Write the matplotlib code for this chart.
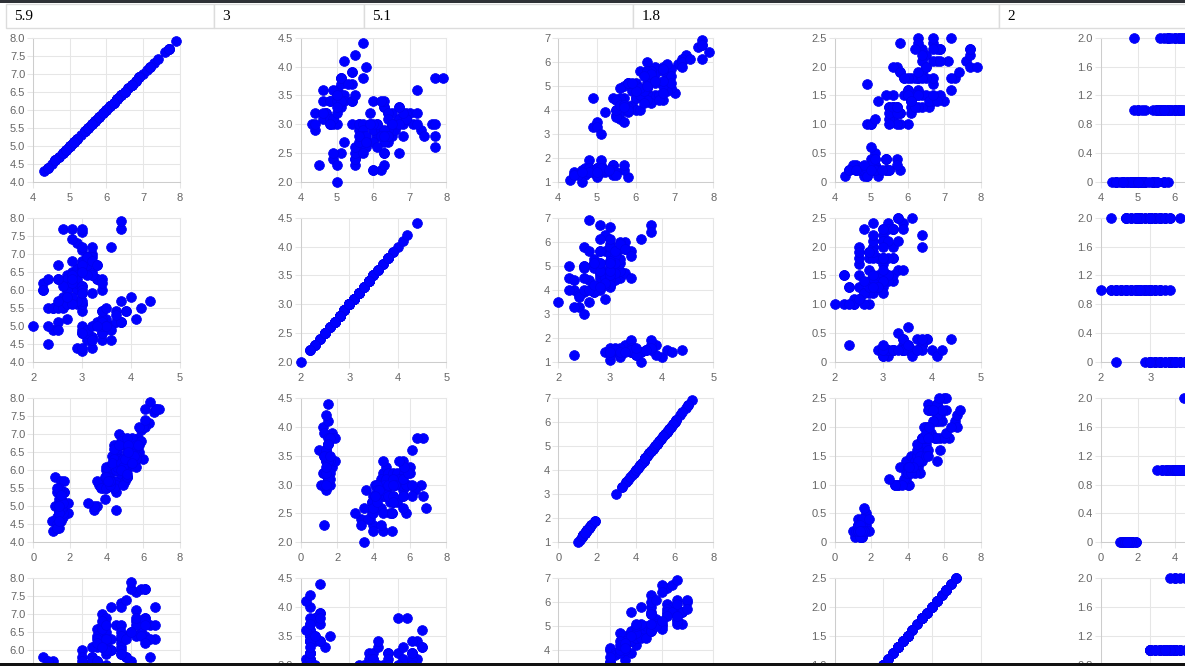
import numpy as np
import matplotlib.pyplot as plt
from matplotlib.patches import Rectangle

# iris data, one row per flower
sepal_length = [5.1, 4.9, 4.7, 4.6, 5.0, 5.4, 4.6, 5.0, 4.4, 4.9, 5.4, 4.8, 4.8, 4.3, 5.8, 5.7, 5.4, 5.1, 5.7, 5.1,
                5.4, 5.1, 4.6, 5.1, 4.8, 5.0, 5.0, 5.2, 5.2, 4.7, 4.8, 5.4, 5.2, 5.5, 4.9, 5.0, 5.5, 4.9, 4.4, 5.1,
                5.0, 4.5, 4.4, 5.0, 5.1, 4.8, 5.1, 4.6, 5.3, 5.0,
                7.0, 6.4, 6.9, 5.5, 6.5, 5.7, 6.3, 4.9, 6.6, 5.2, 5.0, 5.9, 6.0, 6.1, 5.6, 6.7, 5.6, 5.8, 6.2, 5.6,
                5.9, 6.1, 6.3, 6.1, 6.4, 6.6, 6.8, 6.7, 6.0, 5.7, 5.5, 5.5, 5.8, 6.0, 5.4, 6.0, 6.7, 6.3, 5.6, 5.5,
                5.5, 6.1, 5.8, 5.0, 5.6, 5.7, 5.7, 6.2, 5.1, 5.7,
                6.3, 5.8, 7.1, 6.3, 6.5, 7.6, 4.9, 7.3, 6.7, 7.2, 6.5, 6.4, 6.8, 5.7, 5.8, 6.4, 6.5, 7.7, 7.7, 6.0,
                6.9, 5.6, 7.7, 6.3, 6.7, 7.2, 6.2, 6.1, 6.4, 7.2, 7.4, 7.9, 6.4, 6.3, 6.1, 7.7, 6.3, 6.4, 6.0, 6.9,
                6.7, 6.9, 5.8, 6.8, 6.7, 6.7, 6.3, 6.5, 6.2, 5.9]
sepal_width = [3.5, 3.0, 3.2, 3.1, 3.6, 3.9, 3.4, 3.4, 2.9, 3.1, 3.7, 3.4, 3.0, 3.0, 4.0, 4.4, 3.9, 3.5, 3.8, 3.8,
               3.4, 3.7, 3.6, 3.3, 3.4, 3.0, 3.4, 3.5, 3.4, 3.2, 3.1, 3.4, 4.1, 4.2, 3.1, 3.2, 3.5, 3.6, 3.0, 3.4,
               3.5, 2.3, 3.2, 3.5, 3.8, 3.0, 3.8, 3.2, 3.7, 3.3,
               3.2, 3.2, 3.1, 2.3, 2.8, 2.8, 3.3, 2.4, 2.9, 2.7, 2.0, 3.0, 2.2, 2.9, 2.9, 3.1, 3.0, 2.7, 2.2, 2.5,
               3.2, 2.8, 2.5, 2.8, 2.9, 3.0, 2.8, 3.0, 2.9, 2.6, 2.4, 2.4, 2.7, 2.7, 3.0, 3.4, 3.1, 2.3, 3.0, 2.5,
               2.6, 3.0, 2.6, 2.3, 2.7, 3.0, 2.9, 2.9, 2.5, 2.8,
               3.3, 2.7, 3.0, 2.9, 3.0, 3.0, 2.5, 2.9, 2.5, 3.6, 3.2, 2.7, 3.0, 2.5, 2.8, 3.2, 3.0, 3.8, 2.6, 2.2,
               3.2, 2.8, 2.8, 2.7, 3.3, 3.2, 2.8, 3.0, 2.8, 3.0, 2.8, 3.8, 2.8, 2.8, 2.6, 3.0, 3.4, 3.1, 3.0, 3.1,
               3.1, 3.1, 2.7, 3.2, 3.3, 3.0, 2.5, 3.0, 3.4, 3.0]
petal_length = [1.4, 1.4, 1.3, 1.5, 1.4, 1.7, 1.4, 1.5, 1.4, 1.5, 1.5, 1.6, 1.4, 1.1, 1.2, 1.5, 1.3, 1.4, 1.7, 1.5,
                1.7, 1.5, 1.0, 1.7, 1.9, 1.6, 1.6, 1.5, 1.4, 1.6, 1.6, 1.5, 1.5, 1.4, 1.5, 1.2, 1.3, 1.4, 1.3, 1.5,
                1.3, 1.3, 1.3, 1.6, 1.9, 1.4, 1.6, 1.4, 1.5, 1.4,
                4.7, 4.5, 4.9, 4.0, 4.6, 4.5, 4.7, 3.3, 4.6, 3.9, 3.5, 4.2, 4.0, 4.7, 3.6, 4.4, 4.5, 4.1, 4.5, 3.9,
                4.8, 4.0, 4.9, 4.7, 4.3, 4.4, 4.8, 5.0, 4.5, 3.5, 3.8, 3.7, 3.9, 5.1, 4.5, 4.5, 4.7, 4.4, 4.1, 4.0,
                4.4, 4.6, 4.0, 3.3, 4.2, 4.2, 4.2, 4.3, 3.0, 4.1,
                6.0, 5.1, 5.9, 5.6, 5.8, 6.6, 4.5, 6.3, 5.8, 6.1, 5.1, 5.3, 5.5, 5.0, 5.1, 5.3, 5.5, 6.7, 6.9, 5.0,
                5.7, 4.9, 6.7, 4.9, 5.7, 6.0, 4.8, 4.9, 5.6, 5.8, 6.1, 6.4, 5.6, 5.1, 5.6, 6.1, 5.6, 5.5, 4.8, 5.4,
                5.6, 5.1, 5.1, 5.9, 5.7, 5.2, 5.0, 5.2, 5.4, 5.1]
petal_width = [0.2, 0.2, 0.2, 0.2, 0.2, 0.4, 0.3, 0.2, 0.2, 0.1, 0.2, 0.2, 0.1, 0.1, 0.2, 0.4, 0.4, 0.3, 0.3, 0.3,
               0.2, 0.4, 0.2, 0.5, 0.2, 0.2, 0.4, 0.2, 0.2, 0.2, 0.2, 0.4, 0.1, 0.2, 0.2, 0.2, 0.2, 0.1, 0.2, 0.2,
               0.3, 0.3, 0.2, 0.6, 0.4, 0.3, 0.2, 0.2, 0.2, 0.2,
               1.4, 1.5, 1.5, 1.3, 1.5, 1.3, 1.6, 1.0, 1.3, 1.4, 1.0, 1.5, 1.0, 1.4, 1.3, 1.4, 1.5, 1.0, 1.5, 1.1,
               1.8, 1.3, 1.5, 1.2, 1.3, 1.4, 1.4, 1.7, 1.5, 1.0, 1.1, 1.0, 1.2, 1.6, 1.5, 1.6, 1.5, 1.3, 1.3, 1.3,
               1.2, 1.4, 1.2, 1.0, 1.3, 1.2, 1.3, 1.3, 1.1, 1.3,
               2.5, 1.9, 2.1, 1.8, 2.2, 2.1, 1.7, 1.8, 1.8, 2.5, 2.0, 1.9, 2.1, 2.0, 2.4, 2.3, 1.8, 2.2, 2.3, 1.5,
               2.3, 2.0, 2.0, 1.8, 2.1, 1.8, 1.8, 1.8, 2.1, 1.6, 1.9, 2.0, 2.2, 1.5, 1.4, 2.3, 2.4, 1.8, 1.8, 2.1,
               2.4, 2.3, 1.9, 2.3, 2.5, 2.3, 1.9, 2.0, 2.3, 1.8]
species = [0] * 50 + [1] * 50 + [2] * 50

# values shown in the input boxes (last row)
box_text = ['5.9', '3', '5.1', '1.8', '2']

# y axis ticks / labels per variable
sl_ticks = [4.0, 4.5, 5.0, 5.5, 6.0, 6.5, 7.0, 7.5, 8.0]
sl_labels = ['4.0', '4.5', '5.0', '5.5', '6.0', '6.5', '7.0', '7.5', '8.0']
sw_ticks = [2.0, 2.5, 3.0, 3.5, 4.0, 4.5]
sw_labels = ['2.0', '2.5', '3.0', '3.5', '4.0', '4.5']
pl_ticks = [1, 2, 3, 4, 5, 6, 7]
pl_labels = ['1', '2', '3', '4', '5', '6', '7']
pw_ticks = [0, 0.5, 1.0, 1.5, 2.0, 2.5]
pw_labels = ['0', '0.5', '1.0', '1.5', '2.0', '2.5']
cls_ticks = [0, 0.4, 0.8, 1.2, 1.6, 2.0]
cls_labels = ['0', '0.4', '0.8', '1.2', '1.6', '2.0']

# x axis ticks per row variable
sl_xticks = [4, 5, 6, 7, 8]
sw_xticks = [2, 3, 4, 5]
pl_xticks = [0, 2, 4, 6, 8]
pw_xticks = [0, 1, 2, 3]

columns = [sepal_length, sepal_width, petal_length, petal_width, species]
y_axes = [(sl_ticks, sl_labels), (sw_ticks, sw_labels), (pl_ticks, pl_labels),
          (pw_ticks, pw_labels), (cls_ticks, cls_labels)]
rows = [sepal_length, sepal_width, petal_length, petal_width]
x_axes = [sl_xticks, sw_xticks, pl_xticks, pw_xticks]

W, H = 1185, 666
fig = plt.figure(figsize=(W / 100, H / 100), dpi=100)
plt.rcParams['font.family'] = ['Liberation Sans', 'DejaVu Sans']

# page overlay: input boxes along the top
ov = fig.add_axes([0, 0, 1, 1], zorder=-5)
ov.set_xlim(0, W)
ov.set_ylim(H, 0)
ov.axis('off')
edges = [6, 214, 364, 633, 999, 1190]
for i, t in enumerate(box_text):
    ov.add_patch(Rectangle((edges[i], 3.5), edges[i + 1] - edges[i], 24.5,
                           facecolor='white', edgecolor='#dcdcdc', lw=1))
    ov.text(edges[i] + 8.5, 20.5, t, fontsize=11, family='Liberation Serif',
            color='black', va='baseline', ha='left')

col_left = [33.3, 300.7, 558.3, 834.5, 1101]
col_width = [146.3, 145.5, 155, 146, 148]
row_top = [37.7, 217.7, 398, 578]
row_h = 144.3

grid_c = '#e6e6e6'
all_axes = []
for r in range(4):
    for c in range(5):
        ax = fig.add_axes([col_left[c] / W, 1 - (row_top[r] + row_h) / H,
                           col_width[c] / W, row_h / H])
        all_axes.append(ax)
        yt, yl = y_axes[c]
        xt = x_axes[r]
        ax.scatter(rows[r], columns[c], s=50, color='#0000ff', edgecolors='#0000ee',
                   linewidths=0.5, clip_on=False, zorder=3)
        ax.set_xlim(xt[0], xt[-1])
        ax.set_ylim(yt[0], yt[-1])
        ax.set_xticks(xt)
        ax.set_xticklabels([str(v) for v in xt])
        ax.set_yticks(yt)
        ax.set_yticklabels(yl)
        ax.grid(True, color=grid_c, lw=0.75)
        for s in ['top', 'right']:
            ax.spines[s].set_color(grid_c)
            ax.spines[s].set_linewidth(0.75)
        for s in ['left', 'bottom']:
            ax.spines[s].set_color('#cdcdcd')
            ax.spines[s].set_linewidth(0.75)
        ax.tick_params(axis='both', length=4.3, width=0.75, color=grid_c,
                       labelcolor='#666666', labelsize=8)
        ax.tick_params(axis='y', pad=1.5)
        ax.tick_params(axis='x', pad=3.5)
        ax.set_axisbelow(True)

# dark browser strips drawn over everything
fig.add_artist(Rectangle((0, 1 - 3 / H), 1, 3 / H, transform=fig.transFigure,
                         color='#2e3136', lw=0, zorder=20))
fig.add_artist(Rectangle((0, 0), 1, 3.5 / H, transform=fig.transFigure,
                         color='#111111', lw=0, zorder=20))

# the screenshot is cropped: drop tick labels that fall fully off the page
fig.canvas.draw()
renderer = fig.canvas.get_renderer()
for ax in all_axes:
    for lab in ax.get_xticklabels() + ax.get_yticklabels():
        bb = lab.get_window_extent(renderer)
        if bb.x0 >= W - 1 or bb.y1 <= 3.5:
            lab.set_visible(False)

fig.savefig('out.png', dpi=100)
